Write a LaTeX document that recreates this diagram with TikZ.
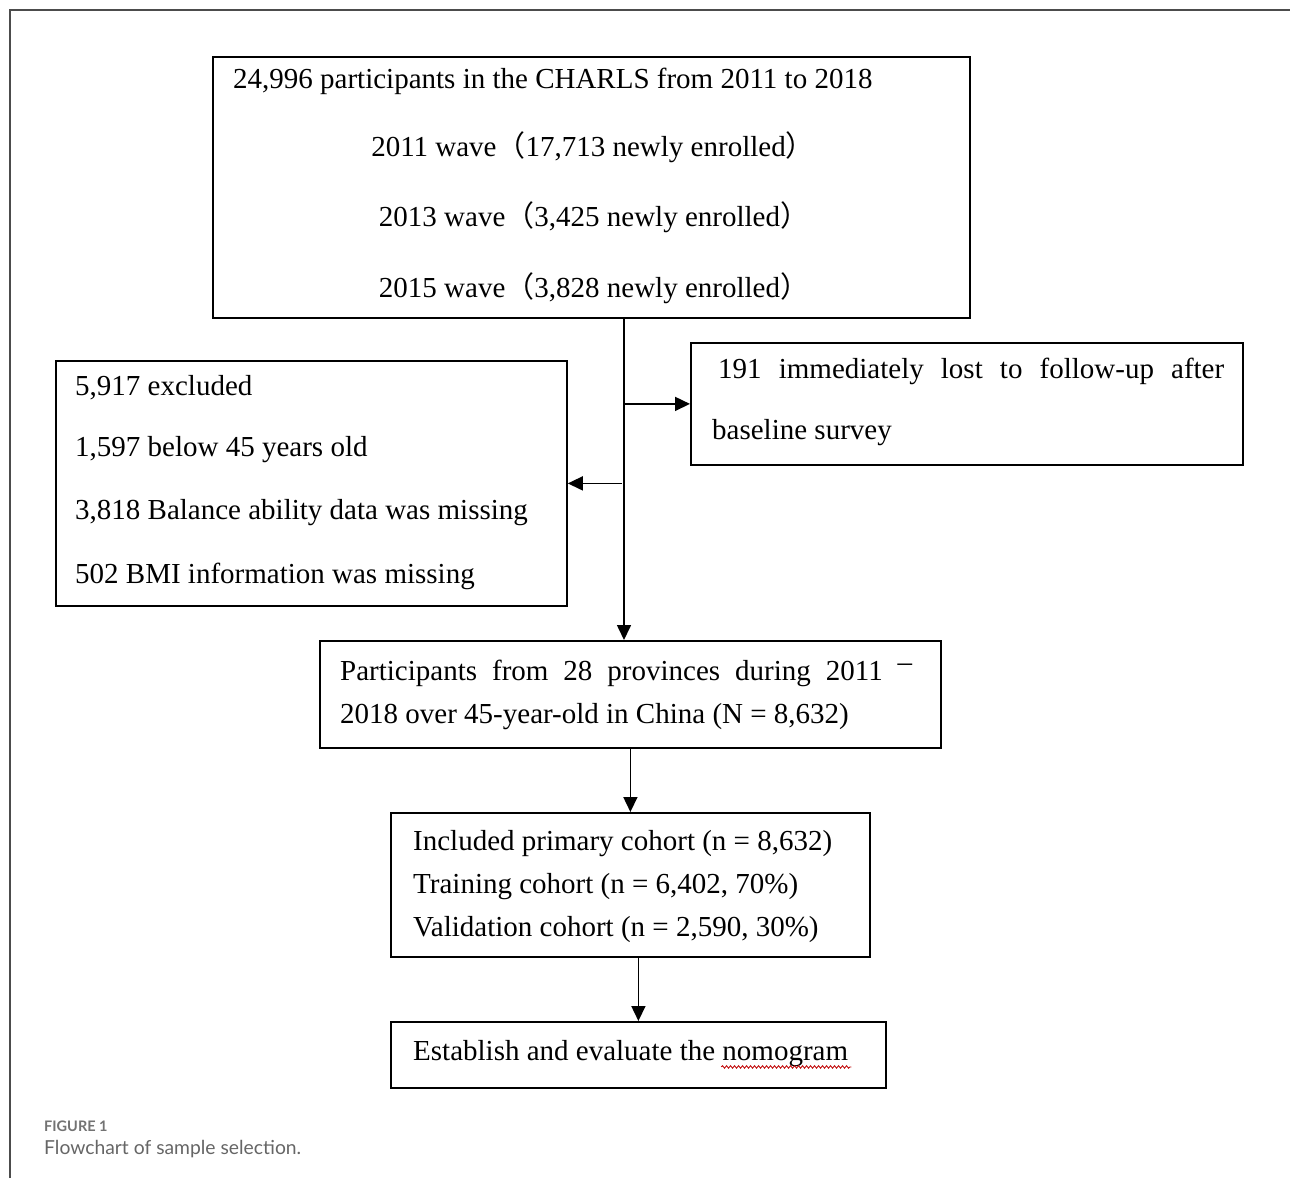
\documentclass[tikz,border=0pt]{standalone}
\usepackage{fontspec}
\setmainfont{Liberation Serif}
\newfontfamily\cjk{Noto Sans CJK SC}
\newfontfamily\capfont{Lato}
\usetikzlibrary{arrows.meta,decorations.pathmorphing,calc}
\begin{document}
\begin{tikzpicture}[x=1pt,y=-1pt,
  box/.style={draw=black, line width=1.8pt, anchor=north west, inner sep=0pt},
  txt/.style={anchor=west, inner sep=0pt, font=\fontsize{29}{34}\selectfont},
  ctxt/.style={txt, anchor=center},
  arr/.style={line width=1.6pt, -{Triangle[length=15pt,width=14pt]}},
  wavy/.style={draw=red!75!black, line width=0.8pt, decorate, decoration={snake, amplitude=1.3pt, segment length=4pt}},
  capA/.style={anchor=west, inner sep=0pt, font=\capfont\bfseries\fontsize{14.5}{17}\selectfont, text=black!55},
  capB/.style={anchor=west, inner sep=0pt, font=\capfont\fontsize{19.3}{23}\selectfont, text=black!60}
]
\useasboundingbox (0,0) rectangle (1290,1178);
\fill[white] (0,0) rectangle (1290,1178);
\draw[line width=2pt, black!70] (10,1178) -- (10,10) -- (1290,10);

% boxes
\node[box, minimum width=757pt, minimum height=261pt] (b1) at (212,56) {};
\node[box, minimum width=552pt, minimum height=122pt] (b2) at (690,342) {};
\node[box, minimum width=511pt, minimum height=245pt] (b3) at (55,360) {};
\node[box, minimum width=621pt, minimum height=107pt] (b4) at (319,640) {};
\node[box, minimum width=479pt, minimum height=144pt] (b5) at (390,812) {};
\node[box, minimum width=495pt, minimum height=66pt] (b6) at (390,1021) {};

% box 1 text
\node[txt] (t11) at (233,81) {24,996 participants in the CHARLS from 2011 to 2018};
\node[ctxt] (t12) at (593,147) {2011 wave{\cjk（}17,713 newly enrolled{\cjk）}};
\node[ctxt] (t13) at (594,217) {2013 wave{\cjk（}3,425 newly enrolled{\cjk）}};
\node[ctxt] (t14) at (594,288) {2015 wave{\cjk（}3,828 newly enrolled{\cjk）}};

% box 2 text
\node[txt] (t21) at (718,371) {\makebox[506pt][s]{191 immediately lost to follow-up after}};
\node[txt] (t22) at (712,433) {baseline survey};

% box 3 text
\node[txt] (t31) at (75,388) {5,917 excluded};
\node[txt] (t32) at (75,450) {1,597 below 45 years old};
\node[txt] (t33) at (75,513) {3,818 Balance ability data was missing};
\node[txt] (t34) at (75,576) {502 BMI information was missing};

% box 4 text
\node[txt] (t41) at (340,673) {\makebox[572pt][s]{Participants from 28 provinces during 2011 \raisebox{0.3em}{–}}};
\node[txt] (t42) at (340,717) {2018 over 45-year-old in China (N = 8,632)};

% box 5 text
\node[txt] (t51) at (413,844) {Included primary cohort (n = 8,632)};
\node[txt] (t52) at (413,887) {Training cohort (n = 6,402, 70\%)};
\node[txt] (t53) at (413,930) {Validation cohort (n = 2,590, 30\%)};

% box 6 text
\node[txt] (t61) at (413,1054) {Establish and evaluate the nomogram};
\draw[wavy] ($(t61.base east)+(-127,6)$) -- ($(t61.base east)+(3,6)$);

% connectors
\coordinate (tk) at ($(b1.south west)+(412,0)$);
\draw[arr] (tk) -- (tk |- b4.north);
\draw[arr] (tk |- b2.west) -- (b2.west);
\draw[arr] ($(tk |- b3.east)+(-2,0)$) -- (b3.east);
\draw[arr] (b4.south) -- (b5.north);
\draw[arr] (b6.north |- b5.south) -- (b6.north);

% caption
\node[capA] (cap1) at (44,1126) {FIGURE 1};
\node[capB] (cap2) at (44,1149) {Flowchart of sample selection.};
\end{tikzpicture}
\end{document}
